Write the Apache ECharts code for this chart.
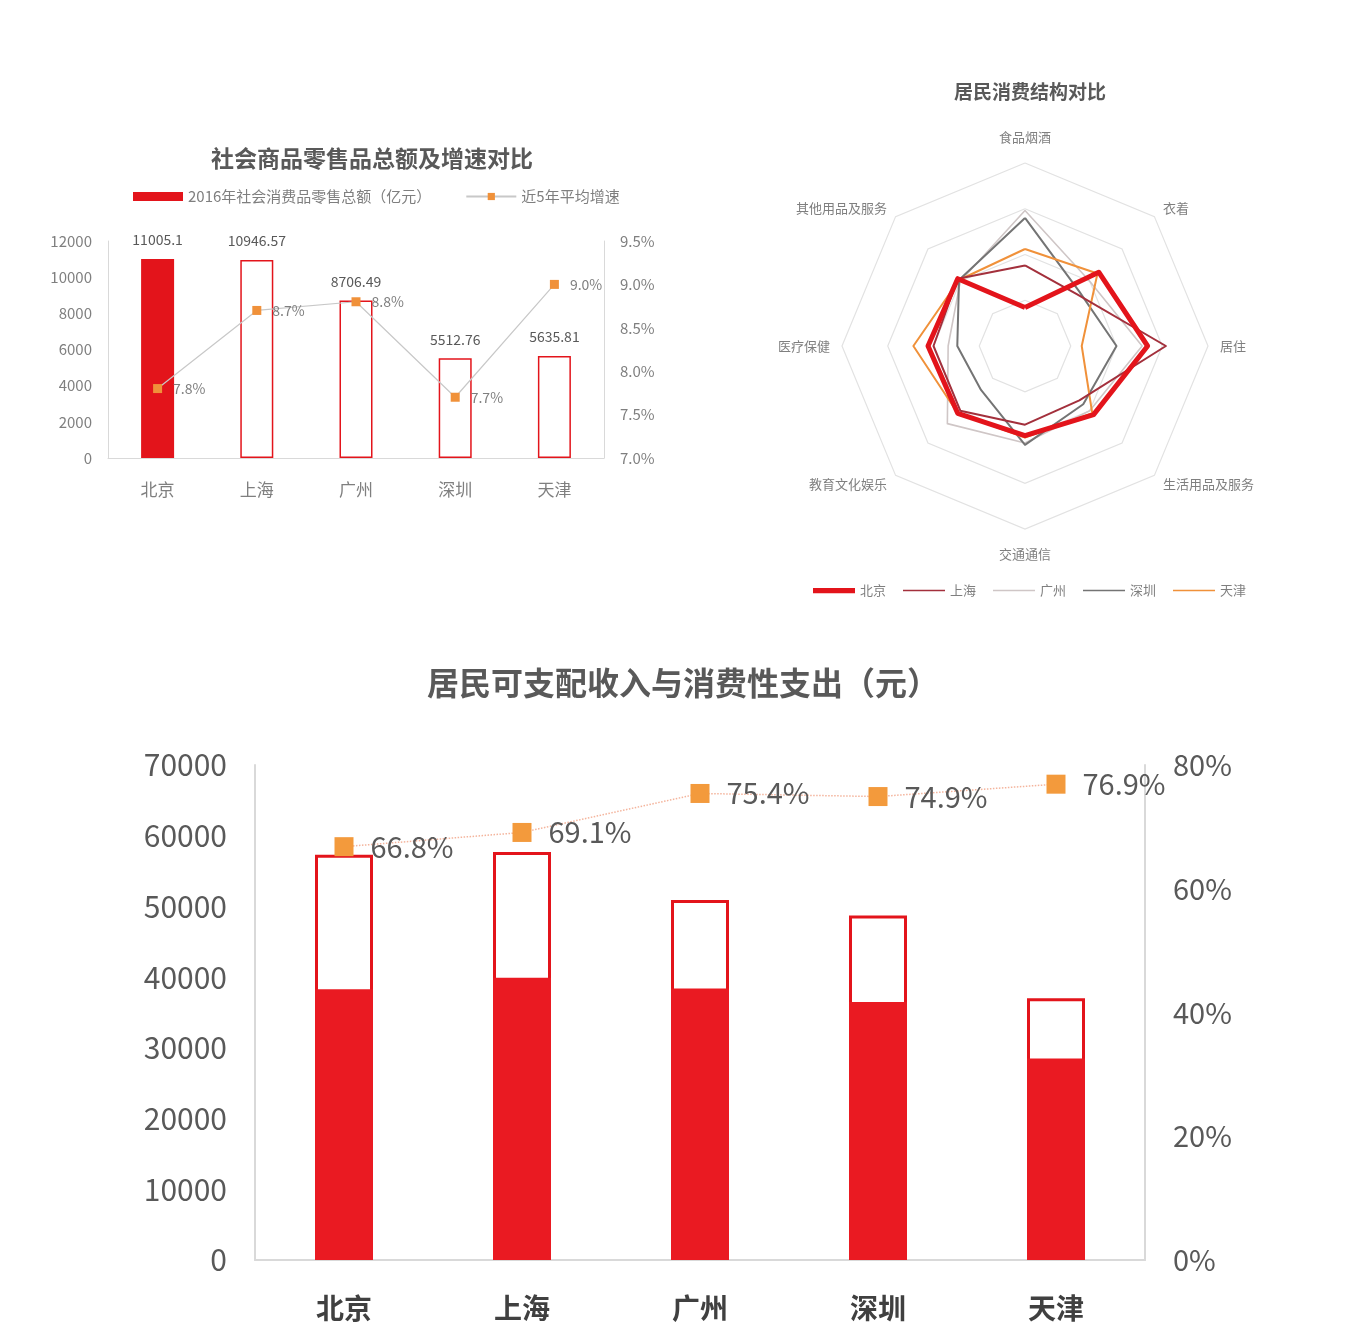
<!DOCTYPE html>
<html>
<head>
<meta charset="utf-8">
<script src="https://cdn.jsdelivr.net/npm/echarts@6/dist/echarts.min.js"></script>
<style>
  html, body { margin: 0; padding: 0; background: #fff; }
  #main { width: 1366px; height: 1340px; }
</style>
</head>
<body>
<div id="main"></div>
<script>
// cities shared by all three panels
const cities = ['北京', '上海', '广州', '深圳', '天津'];

// panel 1: retail sales and 5-year growth
const retailSales = [11005.1, 10946.57, 8706.49, 5512.76, 5635.81];
const retailGrowth = [7.8, 8.7, 8.8, 7.7, 9.0];

// panel 2: consumption structure (radar, drawn counter-clockwise from top)
const radarIndicators = ['食品烟酒', '其他用品及服务', '医疗保健', '教育文化娱乐', '交通通信', '生活用品及服务', '居住', '衣着'];
const radarBeijing  = [21, 52, 53, 52, 49, 53, 67, 57];
const radarShanghai = [44, 52, 50, 50, 43, 42, 77, 40];
const radarGuangzhou = [74, 50, 42, 60, 53, 50, 64, 50];
const radarShenzhen = [70, 51, 37, 34, 54, 45, 50, 42];
const radarTianjin  = [53, 51, 61, 52, 50, 52, 31, 56];

// panel 3: disposable income vs consumption
const disposableIncome = [57300, 57700, 50900, 48700, 37000];
const consumption = [38300, 39900, 38400, 36500, 28500];
const consumeRatio = [66.8, 69.1, 75.4, 74.9, 76.9];

const RED = '#E3141B';
const ORANGE = '#F39A3C';
const FONT = "'Noto Sans CJK SC', 'Microsoft YaHei', sans-serif";

const chart = echarts.init(document.getElementById('main'));

const thick = 'path://M0,0L40,0L40,5L0,5Z';
const thin = 'path://M0,0L40,0L40,1.4L0,1.4Z';
const plain = v => String(v);

chart.setOption({
  animation: false,
  textStyle: { fontFamily: FONT },
  graphic: [
    { type: 'text', x: 372, y: 158, style: { text: '社会商品零售品总额及增速对比', font: 'bold 23px ' + FONT, fill: '#595959', textAlign: 'center', textVerticalAlign: 'middle' } },
    { type: 'text', x: 1030, y: 92, style: { text: '居民消费结构对比', font: 'bold 19px ' + FONT, fill: '#595959', textAlign: 'center', textVerticalAlign: 'middle' } },
    { type: 'text', x: 683, y: 683, style: { text: '居民可支配收入与消费性支出（元）', font: 'bold 32px ' + FONT, fill: '#595959', textAlign: 'center', textVerticalAlign: 'middle' } }
  ],
  legend: [
    {
      left: 128, top: 184,
      itemWidth: 50, itemHeight: 9, itemGap: 34,
      textStyle: { color: '#7f7f7f', fontSize: 15 },
      data: [
        { name: '2016年社会消费品零售总额（亿元）', icon: 'rect' },
        { name: '近5年平均增速' }
      ]
    },
    {
      left: 808, top: 579,
      itemWidth: 42, itemHeight: 6, itemGap: 17,
      textStyle: { color: '#7f7f7f', fontSize: 13 },
      data: [
        { name: '北京', icon: thick },
        { name: '上海', icon: thin },
        { name: '广州', icon: thin },
        { name: '深圳', icon: thin },
        { name: '天津', icon: thin }
      ]
    }
  ],
  grid: [
    { left: 108, top: 241, width: 496, height: 217 },
    { left: 255, top: 765, width: 890, height: 495 }
  ],
  xAxis: [
    {
      gridIndex: 0, type: 'category', data: cities,
      axisLine: { lineStyle: { color: '#D9D9D9' } }, axisTick: { show: false },
      axisLabel: { color: '#7f7f7f', fontSize: 17, margin: 23 }
    },
    {
      gridIndex: 1, type: 'category', data: cities,
      axisLine: { lineStyle: { color: '#D9D9D9', width: 2 } }, axisTick: { show: false },
      axisLabel: { color: '#404040', fontSize: 28, fontWeight: 'bold', margin: 34 }
    }
  ],
  yAxis: [
    {
      gridIndex: 0, type: 'value', min: 0, max: 12000, interval: 2000,
      axisLine: { show: true, lineStyle: { color: '#D9D9D9' } }, splitLine: { show: false },
      axisLabel: { color: '#7f7f7f', fontSize: 15, margin: 16, formatter: plain }
    },
    {
      gridIndex: 0, type: 'value', position: 'right', min: 7.0, max: 9.5, interval: 0.5,
      axisLine: { show: true, lineStyle: { color: '#D9D9D9' } }, splitLine: { show: false },
      axisLabel: { color: '#7f7f7f', fontSize: 15, margin: 16, formatter: v => v.toFixed(1) + '%' }
    },
    {
      gridIndex: 1, type: 'value', min: 0, max: 70000, interval: 10000,
      axisLine: { show: true, lineStyle: { color: '#D9D9D9', width: 2 } }, splitLine: { show: false },
      axisLabel: { color: '#595959', fontSize: 30, margin: 28, formatter: plain }
    },
    {
      gridIndex: 1, type: 'value', position: 'right', min: 0, max: 80, interval: 20,
      axisLine: { show: true, lineStyle: { color: '#D9D9D9', width: 2 } }, splitLine: { show: false },
      axisLabel: { color: '#595959', fontSize: 29, margin: 28, formatter: '{value}%' }
    }
  ],
  radar: {
    center: [1025, 346], radius: 183, startAngle: 90, splitNumber: 4, shape: 'polygon',
    indicator: radarIndicators.map(n => ({ name: n, max: 100 })),
    axisName: { color: '#7f7f7f', fontSize: 13, padding: [7, 0] },
    nameGap: 12,
    splitLine: { lineStyle: { color: '#E2E2E2', width: 1.2 } },
    splitArea: { show: false },
    axisLine: { show: false }
  },
  series: [
    {
      name: '2016年社会消费品零售总额（亿元）', type: 'bar', xAxisIndex: 0, yAxisIndex: 0,
      barWidth: 33,
      itemStyle: { color: RED },
      label: { show: true, position: 'top', distance: 12, color: '#595959', fontSize: 14 },
      data: retailSales.map((v, i) => i === 0 ? v : { value: v, itemStyle: { color: '#fff', borderColor: RED, borderWidth: 1.5 } })
    },
    {
      name: '近5年平均增速', type: 'line', xAxisIndex: 0, yAxisIndex: 1,
      symbol: 'rect', symbolSize: 9,
      itemStyle: { color: '#F0913A' },
      lineStyle: { color: '#C8C8C8', width: 1.2 },
      label: { show: true, position: 'right', distance: 11, color: '#7f7f7f', fontSize: 14, formatter: p => p.value.toFixed(1) + '%' },
      data: retailGrowth
    },
    {
      name: '居民消费结构', type: 'radar', symbol: 'none',
      data: [
        { name: '广州', value: radarGuangzhou, lineStyle: { color: '#CFC6C6', width: 1.6 }, itemStyle: { color: '#CFC6C6' } },
        { name: '深圳', value: radarShenzhen, lineStyle: { color: '#747474', width: 2 }, itemStyle: { color: '#747474' } },
        { name: '天津', value: radarTianjin, lineStyle: { color: '#F0913A', width: 2 }, itemStyle: { color: '#F0913A' } },
        { name: '上海', value: radarShanghai, lineStyle: { color: '#A3303C', width: 2 }, itemStyle: { color: '#A3303C' } },
        { name: '北京', value: radarBeijing, lineStyle: { color: RED, width: 5 }, itemStyle: { color: RED } }
      ]
    },
    {
      name: '可支配收入', type: 'bar', xAxisIndex: 1, yAxisIndex: 2,
      barWidth: 58, barGap: '-100%',
      itemStyle: { color: '#fff', borderColor: RED, borderWidth: 3 },
      data: disposableIncome
    },
    {
      name: '消费性支出', type: 'bar', xAxisIndex: 1, yAxisIndex: 2,
      barWidth: 58, barGap: '-100%',
      itemStyle: { color: '#EA1A22' },
      data: consumption
    },
    {
      name: '消费率', type: 'line', xAxisIndex: 1, yAxisIndex: 3, z: 5,
      symbol: 'rect', symbolSize: 19,
      itemStyle: { color: ORANGE },
      lineStyle: { color: '#F4B49C', width: 1.5, type: 'dotted' },
      label: { show: true, position: 'right', distance: 17, color: '#595959', fontSize: 29, formatter: p => p.value.toFixed(1) + '%' },
      data: consumeRatio
    }
  ]
});
</script>
</body>
</html>
